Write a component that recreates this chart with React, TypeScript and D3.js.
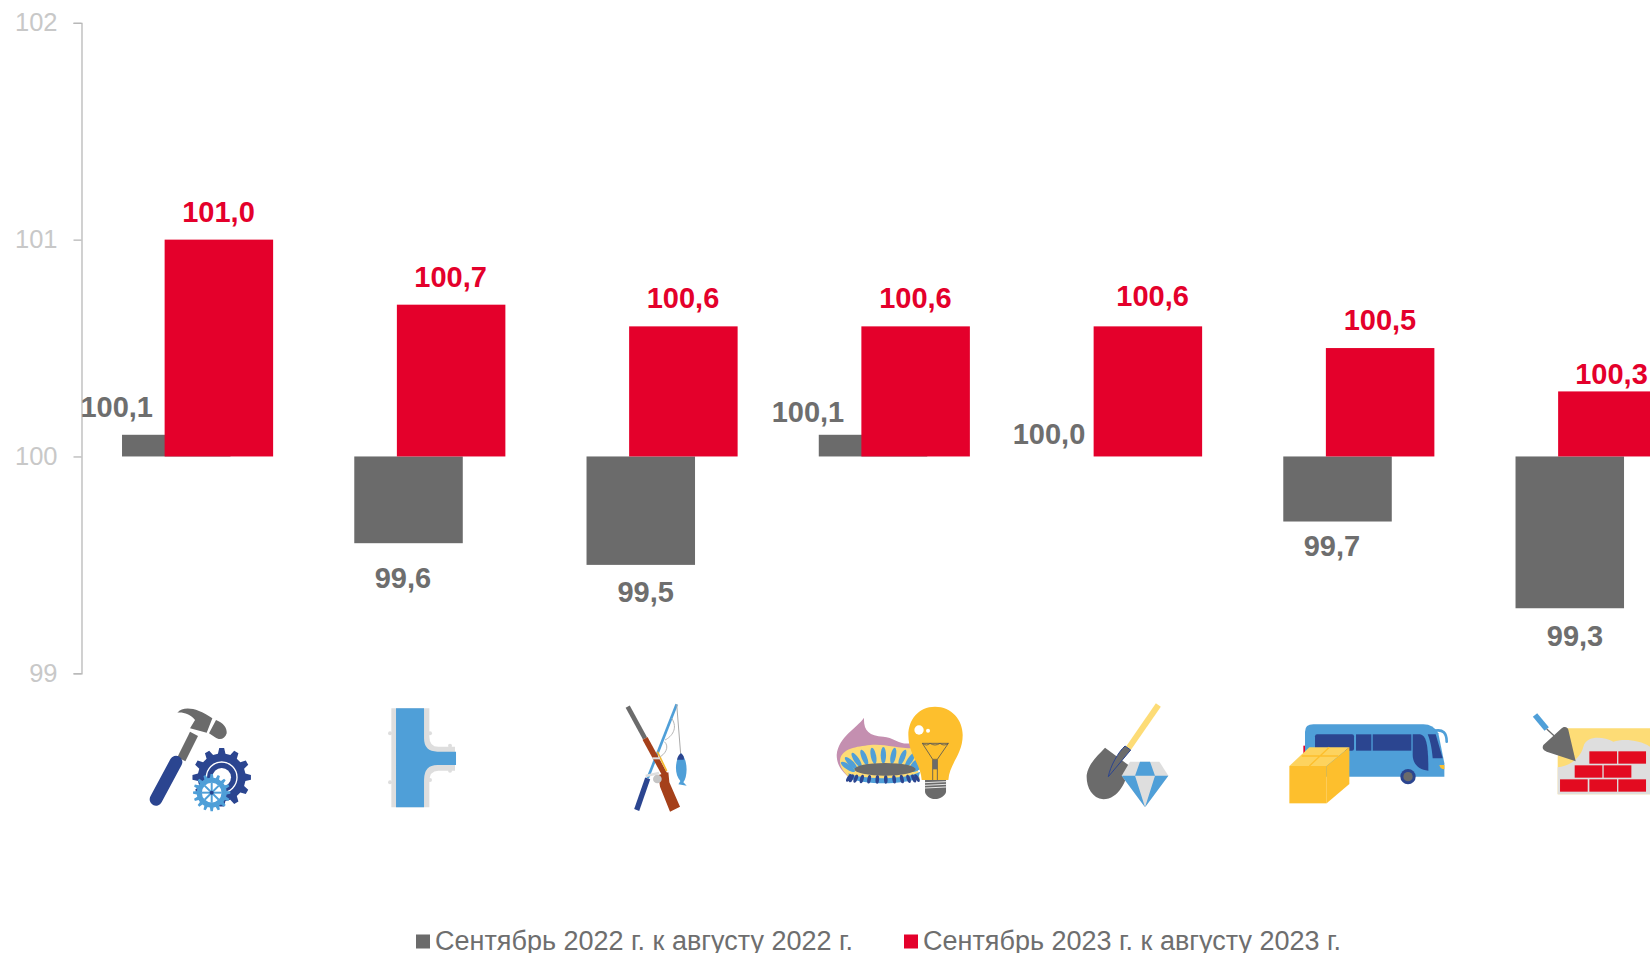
import React, { useEffect, useRef } from "react";
import * as d3 from "d3";

const categories = ["tools", "pipes", "hunting", "energy", "mining", "transport", "building"];
const values2022 = [100.1, 99.6, 99.5, 100.1, 100.0, 99.7, 99.3];
const values2023 = [101.0, 100.7, 100.6, 100.6, 100.6, 100.5, 100.3];
const yTicks = [99, 100, 101, 102];
const legendNames = ["Сентябрь 2022 г. к августу 2022 г.", "Сентябрь 2023 г. к августу 2023 г."];

// label nudges by hand, the original labels are not placed regularly
const grayLabelDx = [-80.9, -26.9, -16.5, -86.4, -77.6, -26.9, -16.1];
const grayLabelDy = [-17.6, 45, 37, -12.4, -12, 34, 38];
const redLabelDx = [20.9, 20.7, 20.9, 21.1, 26, 21.1, 20.4];
const redLabelDy = [-17.5, -18, -18, -18, -20, -18, -7.5];

const GRAY = "#6b6b6b";
const RED = "#e4002b";
const NAVY = "#2b4590";
const BLUE = "#4f9fd8";
const LIGHT = "#dedede";
const YELLOW = "#fdbf2d";
const PALE = "#fddc76";
const FONT = "'Liberation Sans', Arial, sans-serif";

const fmt = (v: number) => d3.format(".1f")(v).replace(".", ",");

const x = d3.scaleBand<string>().domain(categories).range([81.5, 81.5 + 232.25 * 7]);
const y = d3.scaleLinear().domain([99, 102]).range([673.3, 22.8]);
const barWidth = 108.5;
const center = (c: string) => (x(c) as number) + x.step() / 2;

function gearPath(cx: number, cy: number, r1: number, r2: number, teeth: number) {
  const pts: [number, number][] = [];
  const a = (Math.PI * 2) / teeth;
  for (let i = 0; i < teeth; i++) {
    const t = i * a;
    [[-0.3, r1], [-0.16, r2], [0.16, r2], [0.3, r1]].forEach(([k, r]) => {
      pts.push([cx + r * Math.cos(t + k * a), cy + r * Math.sin(t + k * a)]);
    });
  }
  return d3.line()(pts) + "Z";
}

// icons are drawn in the pixel grid of a 3x crop, hence the scale(1/3) below
function ToolsIcon() {
  return (
    <g>
      <path d="M112,172 L150,95 L174,108 L136,184Z" fill={GRAY} />
      <path d="M112,38 C130,18 170,22 217,55 L200,98 L150,85 L165,60 C150,42 130,36 112,38Z" fill={GRAY} />
      <path d="M228,60 C250,68 262,85 260,100 C255,118 238,122 225,112 L207,100Z" fill={GRAY} />
      <line x1={108} y1={186} x2={48} y2={298} stroke={NAVY} strokeWidth={38} strokeLinecap="round" />
      <path d={gearPath(245, 232, 72, 88, 12)} fill={NAVY} />
      <circle cx={245} cy={232} r={46} fill="none" stroke="#fff" strokeWidth={4} />
      <circle cx={245} cy={232} r={28} fill="#fff" />
      <path d={gearPath(215, 278, 45, 56, 16)} fill={BLUE} />
      <circle cx={215} cy={278} r={33} fill="#fff" />
      <circle cx={215} cy={278} r={33} fill="none" stroke={BLUE} strokeWidth={7} />
      {[0, 45, 90, 135].map((a) => (
        <line key={a} x1={185} y1={278} x2={245} y2={278} stroke={BLUE} strokeWidth={6} transform={`rotate(${a} 215 278)`} />
      ))}
      <circle cx={215} cy={278} r={6} fill={NAVY} />
    </g>
  );
}

function PipeIcon() {
  const knobs = [[30, 100], [150, 100], [30, 247], [150, 240], [210, 137], [210, 212]];
  return (
    <g>
      {knobs.map(([cx, cy]) => <circle key={`${cx}-${cy}`} cx={cx} cy={cy} r={6} fill={LIGHT} />)}
      <path d="M34,25 H148 V110 Q148,140 175,140 H225 V212 H175 Q148,212 148,245 V322 H34Z" fill={LIGHT} />
      <path d="M48,25 H132 V115 Q132,155 172,155 H228 V195 H172 Q132,195 132,240 V322 H48Z" fill={BLUE} />
    </g>
  );
}

function HuntingIcon() {
  return (
    <g fill="none" strokeLinecap="butt">
      <line x1={38} y1={35} x2={90} y2={130} stroke={GRAY} strokeWidth={14} />
      <line x1={185} y1={28} x2={98} y2={250} stroke={BLUE} strokeWidth={8} />
      <line x1={98} y1={250} x2={65} y2={345} stroke={NAVY} strokeWidth={16} />
      <line x1={90} y1={130} x2={150} y2={240} stroke="#a5401a" strokeWidth={17} />
      <line x1={127} y1={170} x2={155} y2={228} stroke="#f5b82e" strokeWidth={5} />
      <path d="M130,240 L160,232 L163,262 L195,335 L165,350 L135,275Z" fill="#a5401a" />
      <line x1={185} y1={28} x2={197} y2={178} stroke="#aaa" strokeWidth={3} />
      <path d="M170,70 C190,100 170,125 150,135 M148,140 C165,155 150,180 130,188" stroke="#b5b5b5" strokeWidth={3} />
      <line x1={92} y1={243} x2={132} y2={234} stroke={LIGHT} strokeWidth={7} />
      <line x1={112} y1={190} x2={135} y2={190} stroke={LIGHT} strokeWidth={6} />
      <circle cx={127} cy={252} r={13} fill="#c4c4c4" />
      <path d="M198,175 C220,195 218,245 205,262 L215,272 L190,268 L196,258 C178,240 178,195 198,175Z" fill={BLUE} />
      <path d="M198,175 C208,182 207,192 206,194 L186,194 C188,186 192,178 198,175Z" fill={NAVY} />
    </g>
  );
}

function EnergyIcon() {
  const topPetals = d3.range(-80, 81, 16);
  const lowPetals = d3.range(-80, 81, 14);
  return (
    <g>
      <path d="M50,225 C55,170 110,145 132,113 C130,150 145,168 190,170 C220,172 240,195 270,190 L300,300 L90,295 C60,270 50,250 50,225Z" fill="#c48fb0" />
      <path d="M60,240 C65,205 110,200 150,195 C190,190 230,205 280,205 L300,300 L90,295 C70,275 58,260 60,240Z" fill={PALE} />
      {topPetals.map((a) => {
        const t = (a * Math.PI) / 180;
        const cx = 190 + 108 * Math.sin(t);
        const cy = 268 - 42 * Math.cos(t);
        return <ellipse key={a} cx={cx} cy={cy} rx={8} ry={25} fill={BLUE} transform={`rotate(${a * 0.7} ${cx} ${cy})`} />;
      })}
      <path d="M85,280 C120,300 260,300 300,275 L295,295 C250,315 130,315 90,295Z" fill={BLUE} />
      {lowPetals.map((a) => {
        const t = (a * Math.PI) / 180;
        const cx = 190 + 105 * Math.sin(t);
        const cy = 293 + 5 * Math.cos(t);
        return <ellipse key={a} cx={cx} cy={cy} rx={5.5} ry={13} fill={NAVY} transform={`rotate(${-a * 0.4} ${cx} ${cy})`} />;
      })}
      <ellipse cx={195} cy={268} rx={92} ry={19} fill={GRAY} />
      <path d="M345,80 C395,80 428,120 428,165 C428,225 388,250 385,300 H305 C302,250 265,225 265,165 C265,120 295,80 345,80Z" fill={YELLOW} />
      <circle cx={297} cy={150} r={14} fill="#fff" />
      <circle cx={324} cy={152} r={6} fill="#fff" />
      <path d="M307,190 Q320,200 330,190 Q345,200 360,190 Q372,200 385,190 L352,238 V300 M307,190 L338,238 V300 M338,238 H352 M307,190 H385" fill="none" stroke="#555" strokeWidth={2.5} />
      <rect x={338} y={240} width={14} height={28} fill={GRAY} />
      <path d="M315,300 H378 V335 C378,345 360,357 345,357 C330,357 315,345 315,335Z" fill={GRAY} />
      {[308, 316, 324].map((ly) => <line key={ly} x1={315} y1={ly} x2={378} y2={ly - 3} stroke="#fff" strokeWidth={2.5} />)}
    </g>
  );
}

function MiningIcon() {
  return (
    <g>
      <line x1={1015} y1={75} x2={925} y2={205} stroke={PALE} strokeWidth={18} />
      <path d="M855,203 L925,255 C925,300 895,358 850,358 C815,355 798,320 800,285 C805,250 835,225 855,203Z" fill={GRAY} />
      <path d="M915,198 L932,210 L865,290 C870,260 895,215 915,198Z" fill={GRAY} stroke={NAVY} strokeWidth={3} />
      <path d="M930,245 H1018 L1045,287 L975,382 L905,287Z" fill={LIGHT} />
      <path d="M960,245 H990 L1005,287 H945Z M905,287 H945 L975,382Z M1005,287 H1045 L975,382Z" fill={BLUE} />
    </g>
  );
}

function TransportIcon() {
  return (
    <g>
      <rect x={100} y={197} width={8} height={25} fill={RED} />
      <path d="M105,290 V155 Q105,133 130,133 H460 Q490,133 505,160 L523,250 V290Z" fill={BLUE} />
      <path d="M495,152 Q530,145 530,185" fill="none" stroke={BLUE} strokeWidth={8} strokeLinecap="round" />
      <rect x={135} y={163} width={117} height={49} rx={6} fill={NAVY} />
      <rect x={258} y={163} width={46} height={49} fill={NAVY} />
      <rect x={308} y={163} width={116} height={49} fill={NAVY} />
      <path d="M428,163 H450 C470,165 475,200 475,272 C445,270 428,250 428,225Z" fill={NAVY} />
      <path d="M473,163 H497 L518,235 H488 C485,200 480,180 473,163Z" fill={NAVY} />
      <path d="M508,255 H523 V268 C515,268 510,264 508,255Z" fill={YELLOW} />
      <circle cx={414} cy={290} r={23} fill={NAVY} />
      <circle cx={414} cy={290} r={14} fill={GRAY} />
      <path d="M58,258 L118,202 H238 L170,258Z" fill="#fdd35e" />
      <path d="M95,228 H205 M118,258 L178,202" stroke={YELLOW} strokeWidth={4} fill="none" />
      <rect x={58} y={258} width={112} height={112} fill={YELLOW} />
      <path d="M170,258 L238,202 V312 L170,370Z" fill={YELLOW} />
    </g>
  );
}

function BuildingIcon() {
  const bricks = [
    [958, 214], [1045, 214],
    [914, 256], [1001, 256],
    [870, 298], [958, 298], [1045, 298],
  ];
  return (
    <g>
      <path d="M890,145 H1140 V343 H863 V230Z" fill={PALE} />
      <path d="M940,200 C950,165 1000,170 1030,185 C1060,175 1110,180 1140,200 V343 H863 V262 C890,260 930,240 940,200Z" fill={LIGHT} />
      {bricks.map(([bx, by]) => <rect key={`${bx}-${by}`} x={bx} y={by} width={83} height={37} fill="#e30b20" />)}
      <line x1={795} y1={105} x2={830} y2={147} stroke={BLUE} strokeWidth={17} />
      <line x1={830} y1={147} x2={852} y2={167} stroke={GRAY} strokeWidth={4} />
      <path d="M820,195 L875,145 C885,135 895,145 895,150 L917,244 L830,215 C820,210 815,205 820,195Z" fill={GRAY} />
    </g>
  );
}

const icons = [ToolsIcon, PipeIcon, HuntingIcon, EnergyIcon, MiningIcon, TransportIcon, BuildingIcon];
const iconDx = [-57.6, -49.85, -47.1, -74.35, -306.6, -88.85, -321.1];
const iconTop = [700, 700, 695, 680, 680, 680, 680];

export default function App() {
  const axisRef = useRef<SVGGElement>(null);

  useEffect(() => {
    const g = d3.select(axisRef.current);
    g.call(d3.axisLeft(y).tickValues(yTicks).tickSize(8).tickPadding(16).tickFormat(d3.format("d")) as any);
    g.selectAll("path, line").attr("stroke", "#b8b8b8").attr("stroke-width", 1.3);
    g.selectAll("text").attr("fill", "#c8c8c8").style("font-size", "25.5px").style("font-family", FONT);
  }, []);

  const base = y(100);

  return (
    <svg
      width={1650}
      height={953}
      viewBox="0 0 1650 953"
      style={{ position: "absolute", left: 0, top: 0, background: "#fff" }}
    >
      <g ref={axisRef} transform="translate(81.5,0)" />

      {categories.map((c, i) => {
        const cx = center(c);
        const gray = values2022[i];
        const red = values2023[i];
        return (
          <g key={c}>
            <rect x={cx - 75.6} y={Math.min(y(gray), base)} width={barWidth} height={Math.abs(y(gray) - base)} fill={GRAY} />
            <rect x={cx - 33} y={y(red)} width={barWidth} height={base - y(red)} fill={RED} />
            <text x={cx + grayLabelDx[i]} y={y(gray) + grayLabelDy[i]} textAnchor="middle" fontFamily={FONT} fontWeight="bold" fontSize={29} fill="#6e6e6e">
              {fmt(gray)}
            </text>
            <text x={cx + redLabelDx[i]} y={y(red) + redLabelDy[i]} textAnchor="middle" fontFamily={FONT} fontWeight="bold" fontSize={29} fill={RED}>
              {fmt(red)}
            </text>
          </g>
        );
      })}

      {categories.map((c, i) => {
        const Icon = icons[i];
        return (
          <g key={c} transform={`translate(${center(c) + iconDx[i]},${iconTop[i]}) scale(${1 / 3})`}>
            <Icon />
          </g>
        );
      })}

      <g fontFamily={FONT} fontSize={27} fill="#6e6e6e">
        <rect x={416} y={934.5} width={14} height={14} fill={GRAY} />
        <text x={435} y={950}>{legendNames[0]}</text>
        <rect x={904} y={934.5} width={14} height={14} fill={RED} />
        <text x={923} y={950}>{legendNames[1]}</text>
      </g>
    </svg>
  );
}
